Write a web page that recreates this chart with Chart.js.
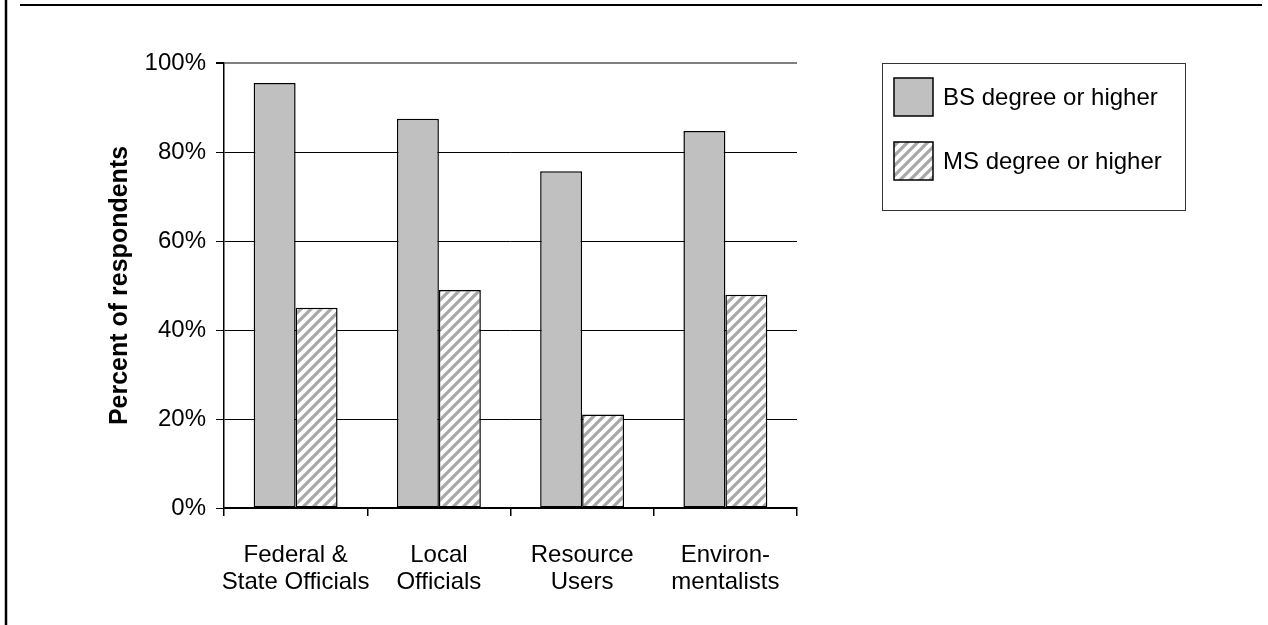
<!DOCTYPE html>
<html>
<head>
<meta charset="utf-8">
<script src="https://cdn.jsdelivr.net/npm/chart.js@4.4.1/dist/chart.umd.min.js"></script>
<style>
  html, body { margin: 0; padding: 0; background: #ffffff; }
  #wrap { width: 1268px; height: 625px; position: relative; }
</style>
</head>
<body>
<div id="wrap"><canvas id="chart" width="1268" height="625"></canvas></div>
<script>
// Respondent groups (two-line labels)
const categories = [
  ['Federal &', 'State Officials'],
  ['Local', 'Officials'],
  ['Resource', 'Users'],
  ['Environ-', 'mentalists']
];
const seriesNames = ['BS degree or higher', 'MS degree or higher'];
// Percent of respondents in each group
const bsValues = [95.5, 87.5, 75.7, 84.7];
const msValues = [45.0, 49.0, 21.0, 47.9];
const yTicks = [0, 20, 40, 60, 80, 100];

const FONT = '"Liberation Sans", Arial, sans-serif';

// Diagonal hatch fill for the second series
function makeHatch() {
  const c = document.createElement('canvas');
  c.width = 10; c.height = 10;
  const g = c.getContext('2d');
  g.fillStyle = '#ffffff';
  g.fillRect(0, 0, 10, 10);
  g.strokeStyle = '#a8a8a8';
  g.lineWidth = 3.2;
  g.beginPath();
  g.moveTo(-2, 12); g.lineTo(12, -2);
  g.moveTo(-2, 2); g.lineTo(2, -2);
  g.moveTo(8, 12); g.lineTo(12, 8);
  g.stroke();
  return g.createPattern(c, 'repeat');
}
const hatch = makeHatch();

// Page frame lines and the boxed legend
const decor = {
  id: 'decor',
  beforeDraw(chart) {
    const ctx = chart.ctx;
    ctx.save();
    ctx.fillStyle = '#ffffff';
    ctx.fillRect(0, 0, chart.width, chart.height);
    ctx.strokeStyle = '#000000';
    ctx.lineWidth = 2.5;
    ctx.beginPath();
    ctx.moveTo(6, 0); ctx.lineTo(6, chart.height);
    ctx.stroke();
    ctx.lineWidth = 2;
    ctx.beginPath();
    ctx.moveTo(20, 5); ctx.lineTo(1262, 5);
    ctx.stroke();
    ctx.restore();
  },
  afterDraw(chart) {
    const ctx = chart.ctx;
    ctx.save();
    // legend box
    ctx.strokeStyle = '#333333';
    ctx.lineWidth = 1;
    ctx.strokeRect(882.5, 63.5, 303, 147);
    const fills = chart.data.datasets.map(d => d.backgroundColor);
    const rows = [97, 161];
    ctx.font = '24px ' + FONT;
    ctx.textBaseline = 'middle';
    ctx.textAlign = 'left';
    rows.forEach((cy, i) => {
      ctx.fillStyle = fills[i];
      ctx.fillRect(894, cy - 19, 39, 38);
      ctx.strokeStyle = '#000000';
      ctx.lineWidth = 1.5;
      ctx.strokeRect(894, cy - 19, 39, 38);
      ctx.fillStyle = '#000000';
      ctx.fillText(chart.data.datasets[i].label, 943, cy + 1);
    });
    ctx.restore();
  }
};

new Chart(document.getElementById('chart'), {
  type: 'bar',
  data: {
    labels: categories,
    datasets: [
      {
        label: seriesNames[0],
        data: bsValues,
        backgroundColor: '#c0c0c0',
        borderColor: '#000000',
        borderWidth: 1.5,
        borderSkipped: false,
        barPercentage: 1.0,
        categoryPercentage: 0.586
      },
      {
        label: seriesNames[1],
        data: msValues,
        backgroundColor: hatch,
        borderColor: '#000000',
        borderWidth: 1.5,
        borderSkipped: false,
        barPercentage: 1.0,
        categoryPercentage: 0.586
      }
    ]
  },
  options: {
    responsive: false,
    animation: false,
    devicePixelRatio: 1,
    layout: { padding: { left: 0, top: 63, right: 471, bottom: 0 } },
    plugins: {
      legend: { display: false },
      tooltip: { enabled: false },
      title: { display: false }
    },
    scales: {
      x: {
        offset: true,
        grid: {
          display: true,
          drawOnChartArea: true,
          offset: true,
          color: (c) => (c.index === categories.length ? '#808080' : 'rgba(0,0,0,0)'),
          tickColor: '#000000',
          tickLength: 8,
          lineWidth: 1.5
        },
        border: { display: true, color: '#000000', width: 1.5 },
        ticks: {
          color: '#000000',
          font: { family: FONT, size: 24, lineHeight: 1.12 },
          padding: 26,
          maxRotation: 0,
          autoSkip: false
        },
        afterFit(scale) { scale.height = 117; }
      },
      y: {
        min: 0,
        max: 100,
        afterBuildTicks(scale) { scale.ticks = yTicks.map(v => ({ value: v })); },
        grid: {
          color: (c) => (c.tick && c.tick.value === 100 ? '#808080' : '#000000'),
          tickColor: '#000000',
          tickLength: 8,
          lineWidth: (c) => (c.tick && c.tick.value === 100 ? 2 : 1)
        },
        border: { display: true, color: '#000000', width: 1.5 },
        ticks: {
          color: '#000000',
          font: { family: FONT, size: 24 },
          padding: 10,
          callback: (v) => v + '%'
        },
        title: {
          display: true,
          text: 'Percent of respondents',
          color: '#000000',
          font: { family: FONT, size: 25, weight: 'bold' },
          padding: { top: 105, bottom: 0 }
        },
        afterFit(scale) { scale.width = 224; }
      }
    }
  },
  plugins: [decor]
});
</script>
</body>
</html>
